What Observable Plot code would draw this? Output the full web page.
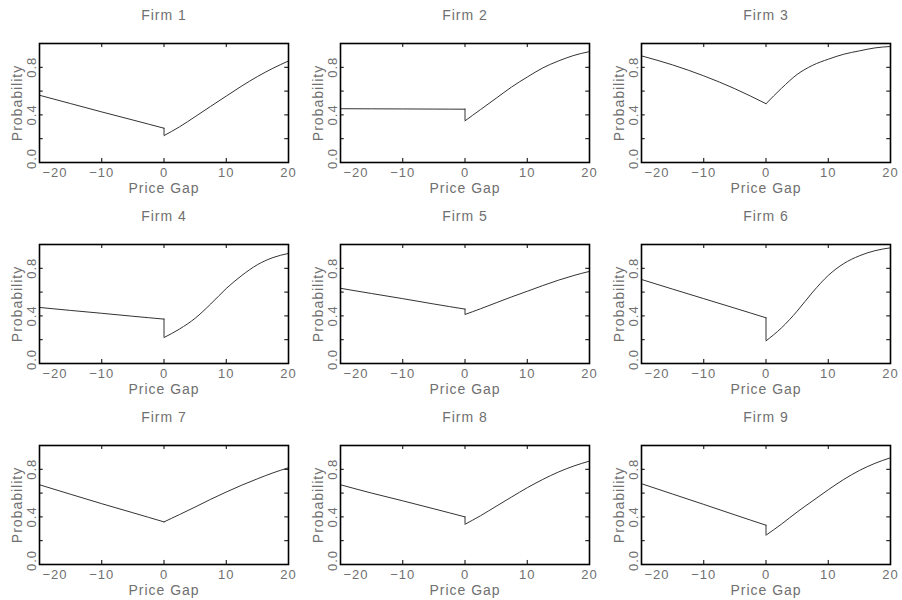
<!DOCTYPE html>
<html>
<head>
<meta charset="utf-8">
<script src="https://cdn.jsdelivr.net/npm/d3@7"></script>
<script src="https://cdn.jsdelivr.net/npm/@observablehq/plot@0.6"></script>
<style>
  html, body { margin: 0; padding: 0; background: #fff; overflow: hidden; }
  #wrap { position: relative; width: 902px; height: 600px; }
  #wrap > svg { position: absolute; }
  #wrap text { letter-spacing: 1px; }
</style>
</head>
<body>
<div id="wrap"></div>
<script>
const firms = ["Firm 1","Firm 2","Firm 3","Firm 4","Firm 5","Firm 6","Firm 7","Firm 8","Firm 9"];
const xTicks = [-20, -10, 0, 10, 20];
const yTicks = [0, 0.2, 0.4, 0.6, 0.8, 1.0];
const yLabels = [0.0, 0.4, 0.8];
const leftX = [-20, -15, -10, -5, 0];
const rightX = [0, 2.5, 5, 7.5, 10, 12.5, 15, 17.5, 20];
const leftP = [
  [0.565, 0.495, 0.425, 0.357, 0.288],
  [0.452, 0.451, 0.450, 0.449, 0.448],
  [0.896, 0.820, 0.728, 0.620, 0.494],
  [0.471, 0.446, 0.422, 0.397, 0.373],
  [0.632, 0.588, 0.545, 0.500, 0.457],
  [0.706, 0.625, 0.545, 0.465, 0.384],
  [0.670, 0.590, 0.511, 0.435, 0.358],
  [0.670, 0.600, 0.535, 0.468, 0.400],
  [0.679, 0.592, 0.505, 0.417, 0.330]
];
const rightP = [
  [0.226, 0.300, 0.385, 0.472, 0.558, 0.643, 0.722, 0.792, 0.853],
  [0.350, 0.445, 0.540, 0.635, 0.718, 0.795, 0.853, 0.900, 0.932],
  [0.494, 0.624, 0.740, 0.817, 0.868, 0.910, 0.938, 0.963, 0.975],
  [0.218, 0.290, 0.380, 0.500, 0.630, 0.740, 0.830, 0.890, 0.925],
  [0.412, 0.460, 0.510, 0.560, 0.607, 0.655, 0.700, 0.740, 0.774],
  [0.190, 0.300, 0.440, 0.600, 0.740, 0.840, 0.905, 0.948, 0.972],
  [0.358, 0.420, 0.483, 0.548, 0.609, 0.667, 0.720, 0.770, 0.813],
  [0.338, 0.410, 0.489, 0.568, 0.645, 0.715, 0.777, 0.828, 0.869],
  [0.246, 0.340, 0.441, 0.535, 0.628, 0.715, 0.790, 0.850, 0.897]
];

const textColor = "#707070";
const font = "'Liberation Sans', 'DejaVu Sans', sans-serif";
const wrap = document.getElementById("wrap");

firms.forEach((name, i) => {
  const col = i % 3, row = Math.floor(i / 3);
  const pts = [
    ...leftX.map((x, k) => ({x, p: leftP[i][k], seg: "L"})),
    ...rightX.map((x, k) => ({x, p: rightP[i][k], seg: "R"}))
  ];
  const jump = [{x: 0, y1: leftP[i][leftX.length - 1], y2: rightP[i][0]}];
  const innerY = yTicks.slice(1, -1);
  const innerX = xTicks.slice(1, -1);
  const chart = Plot.plot({
    width: 301,
    height: 200,
    marginLeft: 39,
    marginRight: 13,
    marginTop: 43,
    marginBottom: 38,
    style: {fontFamily: font, background: "transparent", overflow: "visible"},
    x: {domain: [-20, 20], axis: null},
    y: {domain: [0, 1], axis: null},
    marks: [
      // inward tick marks
      Plot.ruleX(innerX, {x: d => d, y1: 0, y2: 0.034, stroke: "#000", strokeWidth: 1}),
      Plot.ruleX(innerX, {x: d => d, y1: 1, y2: 0.966, stroke: "#000", strokeWidth: 1}),
      Plot.ruleY(innerY, {y: d => d, x1: -20, x2: -19.4, stroke: "#000", strokeWidth: 1}),
      Plot.ruleY(innerY, {y: d => d, x1: 20, x2: 19.4, stroke: "#000", strokeWidth: 1}),
      // curve
      Plot.line(pts, {x: "x", y: "p", z: "seg", curve: "monotone-x", stroke: "#333", strokeWidth: 1}),
      Plot.ruleX(jump, {x: "x", y1: "y1", y2: "y2", stroke: "#333", strokeWidth: 1}),
      Plot.frame({stroke: "#000", strokeWidth: 1.6}),
      // x tick labels
      Plot.text(xTicks.slice(0, 1), {x: d => d, y: 0, text: d => "\u2212" + Math.abs(d), textAnchor: "start", lineAnchor: "middle", dx: 3, dy: 10, fill: textColor, fontSize: 13}),
      Plot.text(xTicks.slice(1), {x: d => d, y: 0, text: d => d < 0 ? "\u2212" + Math.abs(d) : String(d), lineAnchor: "middle", dy: 10, fill: textColor, fontSize: 13}),
      // y tick labels (rotated)
      Plot.text(yLabels.slice(0, 1), {x: -20, y: d => d, text: d => d.toFixed(1), rotate: -90, textAnchor: "middle", lineAnchor: "middle", dx: -8, dy: -4, fill: textColor, fontSize: 13}),
      Plot.text(yLabels.slice(1), {x: -20, y: d => d, text: d => d.toFixed(1), rotate: -90, textAnchor: "middle", lineAnchor: "middle", dx: -8, fill: textColor, fontSize: 13}),
      // axis labels
      Plot.text(["Price Gap"], {frameAnchor: "bottom", textAnchor: "middle", lineAnchor: "middle", dy: 26, fill: textColor, fontSize: 14}),
      Plot.text(["Probability"], {frameAnchor: "left", rotate: -90, textAnchor: "middle", lineAnchor: "middle", dx: -22, fill: textColor, fontSize: 14}),
      // title
      Plot.text([name], {frameAnchor: "top", textAnchor: "middle", lineAnchor: "middle", dy: -28, fill: textColor, fontSize: 14})
    ]
  });
  chart.style.left = (col * 301) + "px";
  chart.style.top = (row * 201) + "px";
  wrap.appendChild(chart);
});
</script>
</body>
</html>
